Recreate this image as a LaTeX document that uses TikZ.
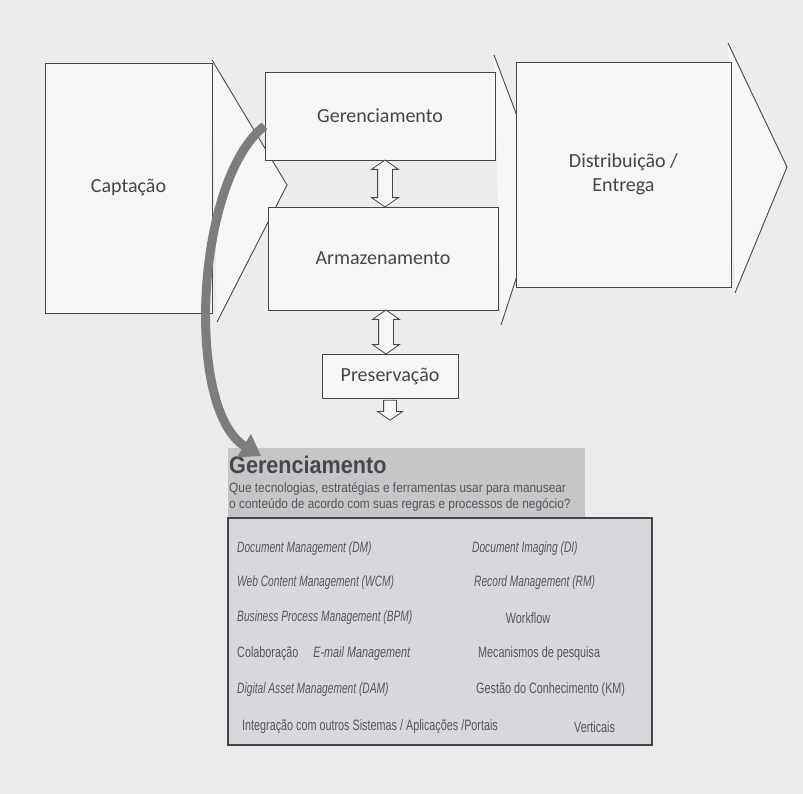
\documentclass[tikz,border=0pt]{standalone}
\usepackage{fontspec}
\setmainfont{Carlito}
\newfontfamily\itemsans[FakeStretch=0.68]{Liberation Sans}
\newfontfamily\uprsans[FakeStretch=0.72]{Liberation Sans}
\newfontfamily\notesans[FakeStretch=0.88]{Liberation Sans}
\newfontfamily\headsans[FakeStretch=0.90]{Liberation Sans}
\usetikzlibrary{shapes.arrows,arrows.meta}
\definecolor{paper}{RGB}{236,236,236}
\definecolor{boxfill}{RGB}{246,246,246}
\definecolor{ink}{RGB}{70,70,70}
\definecolor{panelhead}{RGB}{198,198,200}
\definecolor{panelbody}{RGB}{216,216,220}
\definecolor{panelink}{RGB}{85,85,90}
\definecolor{sweep}{RGB}{125,125,125}
\tikzset{
  stage/.style={draw=ink, line width=0.9, fill=boxfill, text=ink,
    font=\fontsize{20}{24}\selectfont, align=center, inner sep=0},
  chevron/.style={draw=ink, line width=0.9, fill=boxfill, line join=miter},
  linkarrow/.style={double arrow, draw=ink, line width=0.8, fill=boxfill,
    rotate=90, inner xsep=0, inner ysep=7, double arrow head extend=6,
    double arrow tip angle=110},
  outarrow/.style={single arrow, draw=ink, line width=0.8, fill=boxfill,
    rotate=-90, inner xsep=0, inner ysep=6, single arrow head extend=6,
    single arrow tip angle=110},
  item/.style={anchor=west, inner sep=0, text=panelink,
    font=\uprsans\fontsize{15}{17}\selectfont},
  eitem/.style={item, font=\itemsans\itshape\fontsize{15}{17}\selectfont},
  note/.style={anchor=west, inner sep=0, text=panelink,
    font=\notesans\fontsize{13.5}{15}\selectfont},
}
\begin{document}
\begin{tikzpicture}[x=1pt,y=-1pt]
  \fill[paper] (0,0) rectangle (803,794);
  \useasboundingbox (0,0) rectangle (803,794);

  % arrow points of the value chain (behind the boxes)
  \draw[chevron] (212,60) -- (287,185) -- (217,322);
  \draw[chevron] (494,55) -- (545,190) -- (501,325);
  \draw[chevron] (728,43) -- (787,167) -- (735,293);

  % stages
  \node[stage, minimum width=167, minimum height=250] (capt) at (128.5,188) {Captação};
  \node[stage, minimum width=230, minimum height=88] (ger) at (380,116) {Gerenciamento};
  \node[stage, minimum width=230, minimum height=103] (arm) at (383,258.5) {Armazenamento};
  \node[stage, minimum width=215, minimum height=225] (dist) at (623.5,174.5) {Distribuição /\\Entrega};
  \node[stage, minimum width=136, minimum height=44] (pres) at (390,376) {Preservação};

  % links between stages
  \node[linkarrow, minimum height=47] (l1) at (385,183.5) {};
  \node[linkarrow, minimum height=44] (l2) at (386,332) {};
  \node[outarrow, minimum height=20] (l3) at (390,408) {};

  % detail panel for Gerenciamento
  \fill[panelhead] (228,448) rectangle (585,519);
  \draw[panelink!80!black, line width=1.2, fill=panelbody] (228,518) rectangle (652,745);
  \node[anchor=west, inner sep=0, text=panelink!85!black,
        font=\headsans\bfseries\fontsize{24}{26}\selectfont] (ptitle) at (229,465) {Gerenciamento};
  \node[note] (pq1) at (229,489)
    {Que tecnologias, estratégias e ferramentas usar para manusear};
  \node[note] (pq2) at (229,505)
    {o conteúdo de acordo com suas regras e processos de negócio?};

  \node[eitem] (dm)  at (237,549) {Document Management (DM)};
  \node[eitem] (di)  at (472,549) {Document Imaging (DI)};
  \node[eitem] (wcm) at (237,583) {Web Content Management (WCM)};
  \node[eitem] (rm)  at (474,583) {Record Management (RM)};
  \node[eitem] (bpm) at (237,618) {Business Process Management (BPM)};
  \node[item, anchor=center] (wf) at (528,618) {Workflow};
  \node[item] (col)  at (237,654) {Colaboração\quad\textit{E-mail Management}};
  \node[item] (mp)   at (478,654) {Mecanismos de pesquisa};
  \node[eitem] (dam) at (237,690) {Digital Asset Management (DAM)};
  \node[item] (km)   at (476,690) {Gestão do Conhecimento (KM)};
  \node[item] (int)  at (242,727) {Integração com outros Sistemas / Aplicações /Portais};
  \node[item] (vert) at (574,727) {Verticais};

  % sweep from the stage to its detail panel
  \coordinate (sweepend) at (261,456);
  \draw[sweep, line width=9, -{Triangle[length=20,width=26]}]
    (ger.west |- 0,126) .. controls (195,180) and (185,410) .. (sweepend);
\end{tikzpicture}
\end{document}
